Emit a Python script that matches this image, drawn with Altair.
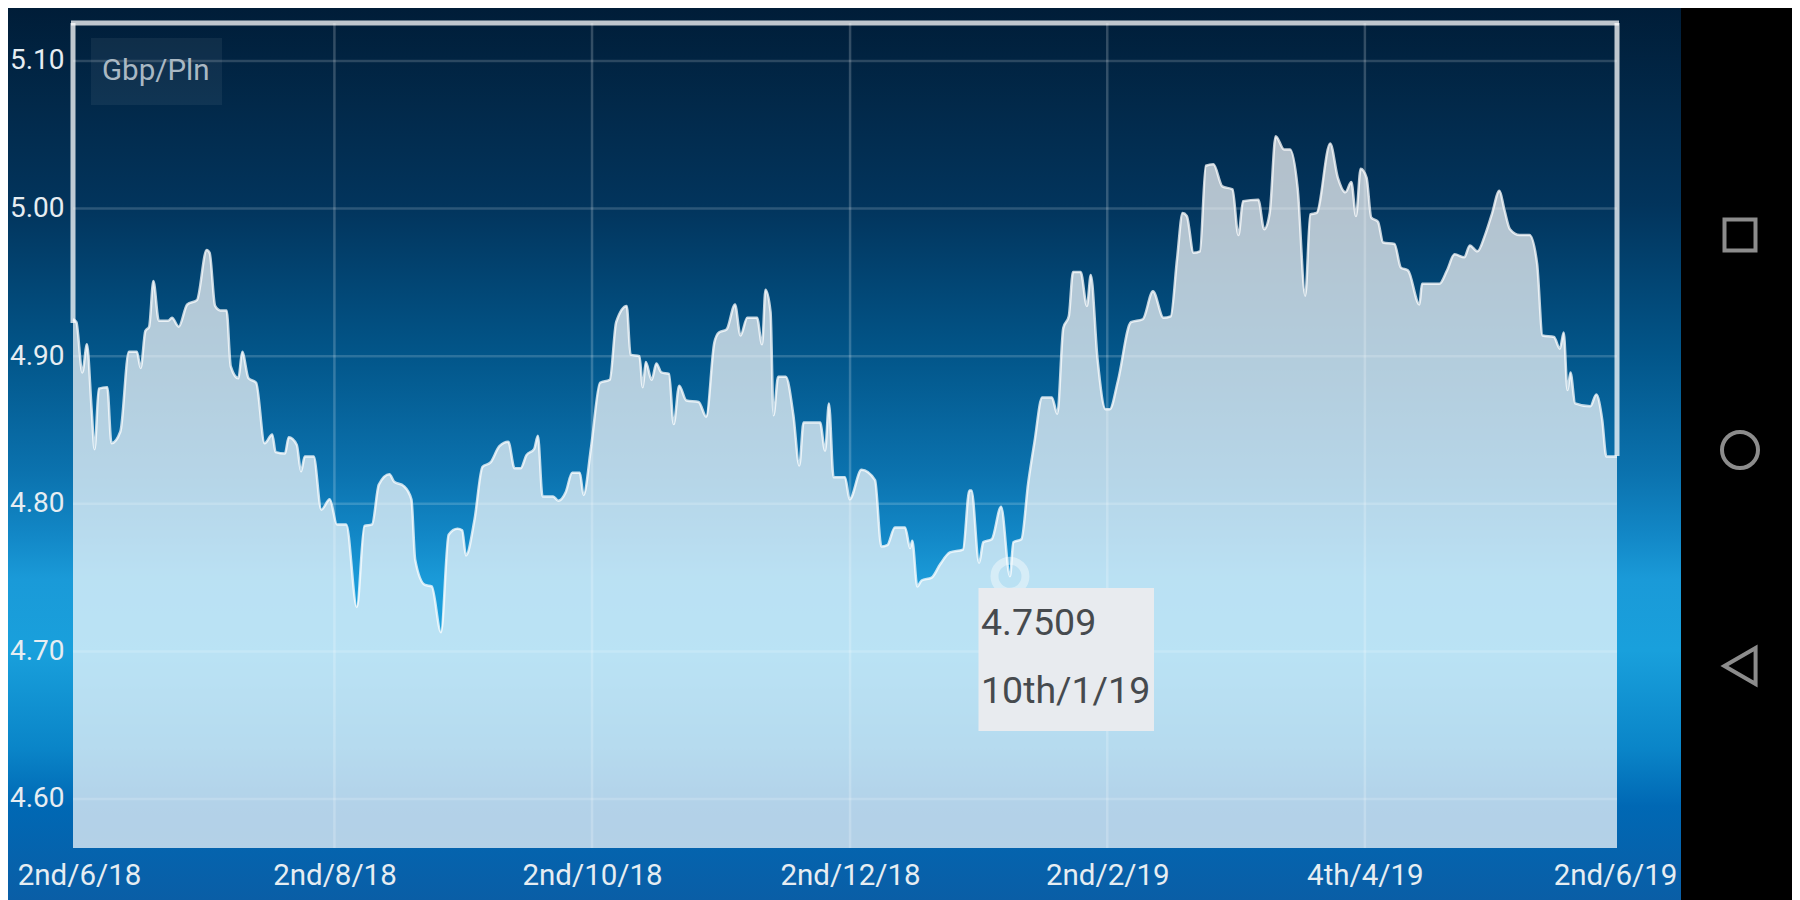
import altair as alt
import pandas as pd

days = [0,0.8,2.2,3.3,4.4,5.1,6.1,8.1,9.1,11.2,13.2,15.1,16,17.1,18,19,20.3,22.5,23.4,25,27,29.3,31.6,32.3,33.6,34.8,36.3,37.3,39.1,40,41.5,43.3,45.3,47.1,47.9,50.1,51,52.9,53.9,54.8,56.9,58.7,60.7,62.4,64.6,67.1,68.9,70.7,72.3,74.8,75.9,78.2,80,80.9,83.2,84.8,87,88.8,90.9,92,92.9,94.9,96.8,98.7,100.8,102.9,104.4,105.8,107.2,109,109.9,111,113.5,114.7,116.5,118,119.8,120.7,122.5,
        124.6,126.9,128.4,130.9,131.8,133.9,134.7,135.4,136.8,137.9,139.1,140.9,142,143.3,145,147.9,149.7,151.6,152.7,154.5,156.5,157.8,159.4,161.7,162.9,163.7,164.9,165.6,166.7,168.5,170.3,171.7,172.7,176.6,177.8,178.7,179.8,182.5,183.6,186.4,189.6,191.1,192.5,194.3,
        196.7,197.9,198.4,199.6,200.6,203,205,207.3,210.4,211.9,212.4,214.2,215.2,217.2,219.4,221.5,222.3,224.2,225.8,
        227.3,229.1,231.4,232.7,234.1,235.4,236.4,238.2,239.7,240.6,242.2,244.1,245.1,
        247,250.1,252.9,255.3,257.8,259.5,261,262.3,263.3,264.9,266.4,267.8,269.6,271.7,274.1,275.5,276.6,280.2,281.6,282.9,284.3,286.3,287.7,289.5,291.3,292.5,294,297.2,299,300.8,302.2,303.3,304.4,305.8,306.9,308.5,309.7,312.4,313.9,315.6,318.3,318.9,323,324.8,326.6,328.9,330.2,332,333.8,335.4,337.2,338.4,339.7,342,344.3,346.1,347.4,350.1,351.5,352.4,353.3,354,355.1,358.7,360.1,361.5,362.5,365]
rates = [4.925,4.923,4.889,4.908,4.864,4.837,4.878,4.879,4.841,4.849,4.903,4.903,4.892,4.917,4.92,4.951,4.924,4.924,4.926,4.920,4.935,4.938,4.972,4.970,4.934,4.931,4.931,4.893,4.885,4.903,4.885,4.882,4.841,4.847,4.835,4.834,4.845,4.840,4.822,4.832,4.832,4.796,4.803,4.786,4.786,4.730,4.785,4.786,4.813,4.820,4.815,4.812,4.803,4.762,4.745,4.744,4.713,4.779,4.783,4.782,4.765,4.789,4.825,4.828,4.839,4.842,4.824,4.824,4.833,4.837,4.846,4.805,4.805,4.802,4.808,4.821,4.821,4.806,4.839,
         4.882,4.884,4.923,4.934,4.901,4.900,4.879,4.896,4.884,4.895,4.889,4.888,4.854,4.880,4.870,4.869,4.859,4.909,4.916,4.918,4.935,4.914,4.926,4.926,4.908,4.945,4.930,4.860,4.886,4.886,4.860,4.826,4.855,4.855,4.836,4.868,4.818,4.818,4.803,4.823,4.816,4.771,4.772,4.784,
         4.784,4.770,4.775,4.744,4.748,4.750,4.759,4.767,4.769,4.809,4.809,4.760,4.774,4.776,4.798,4.7509,4.774,4.776,4.814,
         4.842,4.872,4.872,4.861,4.919,4.927,4.957,4.957,4.934,4.955,4.898,4.864,4.864,
         4.883,4.923,4.925,4.944,4.926,4.927,4.966,4.997,4.995,4.970,4.971,5.029,5.030,5.015,5.013,4.982,5.005,5.006,4.986,4.997,5.049,5.040,5.040,5.014,4.941,4.996,4.997,5.044,5.021,5.011,5.018,4.995,5.027,5.021,4.994,4.991,4.977,4.976,4.960,4.958,4.935,4.949,4.949,4.958,4.969,4.967,4.975,4.971,4.982,4.996,5.012,4.999,4.986,4.982,4.982,4.963,4.914,4.913,4.905,4.916,4.877,4.889,4.868,4.866,4.874,4.857,4.832,4.832]

x_ticks = [0, 61.8, 122.7, 183.7, 244.5, 305.4, 365]
x_labels = ["2nd/6/18", "2nd/8/18", "2nd/10/18", "2nd/12/18", "2nd/2/19", "4th/4/19", "2nd/6/19"]
y_ticks = [4.6, 4.7, 4.8, 4.9, 5.0, 5.1]
pair_name = "Gbp/Pln"
tip_day = 221.5
tip_rate = 4.7509
tip_rate_text = "4.7509"
tip_date_text = "10th/1/19"

W, H = 1544, 825
FONT = "Roboto"
Y_MIN, Y_MAX = 4.5668, 5.1257
x_scale = alt.Scale(domain=[0, 365], nice=False, zero=False)
y_scale = alt.Scale(domain=[Y_MIN, Y_MAX], nice=False, zero=False)
one = alt.Data(values=[{"k": 1}])
df = pd.DataFrame({"day": days, "rate": rates, "floor": [Y_MIN] * len(days)})

def sx(v):
    return alt.value(v - 73)
def sy(v):
    return alt.value(v - 23)

label_expr = "[" + ",".join(f"'{s}'" for s in x_labels) + "][indexof([" + ",".join(str(t) for t in x_ticks) + "],datum.value)]"
x_axis = alt.Axis(
    values=x_ticks, labelExpr=label_expr, title=None, grid=False, domain=False, ticks=False,
    labelFont=FONT, labelFontSize=29.5, labelColor="#e6edf2", labelPadding=13,
    labelOffset=alt.ConditionalAxisNumber(
        condition=[alt.ConditionalPredicateValueDefnumbernullExprRef(test="datum.value == 0", value=6),
                   alt.ConditionalPredicateValueDefnumbernullExprRef(test="datum.value == 365", value=-2)],
        value=0),
    labelOverlap=False, labelBound=False, labelFlush=False, labelAngle=0, zindex=1)
y_axis = alt.Axis(
    values=y_ticks, format=".2f", title=None, grid=False, domain=False, ticks=False,
    labelFont=FONT, labelFontSize=28, labelColor="#e6edf2", labelPadding=9,
    labelOverlap=False, labelBound=False, labelFlush=False, zindex=1)

grad = alt.Gradient(
    gradient="linear", x1=0, y1=0, x2=0, y2=1,
    stops=[
        alt.GradientStop(offset=0.0, color="#001d38"),
        alt.GradientStop(offset=0.11, color="#02294a"),
        alt.GradientStop(offset=0.22, color="#02345c"),
        alt.GradientStop(offset=0.39, color="#02568a"),
        alt.GradientStop(offset=0.52, color="#0b72ae"),
        alt.GradientStop(offset=0.59, color="#1287c6"),
        alt.GradientStop(offset=0.64, color="#1a9ad8"),
        alt.GradientStop(offset=0.72, color="#19a0dc"),
        alt.GradientStop(offset=0.83, color="#0a85c8"),
        alt.GradientStop(offset=0.895, color="#0068b4"),
        alt.GradientStop(offset=1.0, color="#0a5ea6"),
    ],
)

bg = alt.Chart(one).mark_rect(fill=grad).encode(
    x=sx(8), x2=sx(1792), y=sy(8), y2=sy(900))
black = alt.Chart(one).mark_rect(fill="#000000").encode(
    x=sx(1681), x2=sx(1792), y=sy(8), y2=sy(900))

grid_v = alt.Chart(pd.DataFrame({"t": x_ticks[1:-1]})).mark_rule(
    color="#ffffff", opacity=0.2, strokeWidth=2.5
).encode(x=alt.X("t:Q", scale=x_scale, axis=x_axis))
grid_h = alt.Chart(pd.DataFrame({"t": y_ticks})).mark_rule(
    color="#ffffff", opacity=0.17, strokeWidth=2.5
).encode(y=alt.Y("t:Q", scale=y_scale, axis=y_axis))

def edge(x1, x2, y1, y2):
    return alt.Chart(one).mark_rule(color="#ffffff", opacity=0.75, strokeWidth=5).encode(
        x=alt.value(x1), x2=alt.value(x2), y=alt.value(y1), y2=alt.value(y2))
frame_top = edge(-2, W + 2, 0, 0)
frame_left = edge(0, 0, 0, 300)
frame_right = edge(W, W, 0, 433)

area = alt.Chart(df).mark_area(fill="#ffffff", opacity=0.7, interpolate="monotone").encode(
    x=alt.X("day:Q", scale=x_scale, axis=x_axis),
    y=alt.Y("rate:Q", scale=y_scale, axis=y_axis),
    y2=alt.Y2("floor:Q"),
)
line = alt.Chart(df).mark_line(color="#ffffff", opacity=0.75, strokeWidth=2.5, interpolate="monotone").encode(
    x=alt.X("day:Q", scale=x_scale, axis=x_axis), y=alt.Y("rate:Q", scale=y_scale, axis=y_axis))

ring = alt.Chart(pd.DataFrame({"day": [tip_day], "rate": [tip_rate]})).mark_point(
    shape="circle", size=961, filled=False, stroke="#ffffff", strokeOpacity=0.6, strokeWidth=8
).encode(x=alt.X("day:Q", scale=x_scale, axis=x_axis), y=alt.Y("rate:Q", scale=y_scale, axis=y_axis))

name_box = alt.Chart(one).mark_rect(fill="#ffffff", opacity=0.06).encode(
    x=sx(91), x2=sx(222), y=sy(38), y2=sy(105))
name_text = alt.Chart(one).mark_text(
    text=pair_name, font=FONT, fontSize=29.5, color="#aab8c3", align="left", baseline="middle"
).encode(x=sx(102), y=sy(71))

tip_box = alt.Chart(one).mark_rect(fill="#e8ebef").encode(
    x=sx(978.5), x2=sx(1154), y=sy(588), y2=sy(731))
tip_1 = alt.Chart(one).mark_text(
    text=tip_rate_text, font=FONT, fontSize=37.5, color="#464a4e", align="left", baseline="middle"
).encode(x=sx(981), y=sy(624))
tip_2 = alt.Chart(one).mark_text(
    text=tip_date_text, font=FONT, fontSize=37.5, color="#464a4e", align="left", baseline="middle"
).encode(x=sx(981), y=sy(692))

def icon(shape, size, py):
    return alt.Chart(one).mark_point(
        shape=shape, size=size, filled=False, stroke="#8c8c8c", strokeWidth=4, opacity=1
    ).encode(x=sx(1740), y=sy(py))

chart = alt.layer(
    bg, black, grid_v, grid_h, frame_top, frame_left, frame_right, area, line, ring, name_box, name_text,
    tip_box, tip_1, tip_2,
    icon("square", 961, 235), icon("circle", 1296, 450), icon("triangle-left", 1296, 666),
).resolve_scale(x="shared", y="shared").properties(
    width=W, height=H,
    autosize=alt.AutoSizeParams(type="none"),
    padding={"left": 65, "top": 15, "right": 175, "bottom": 52},
).configure_view(stroke=None)

chart.save("out.html", embed_options={"renderer": "svg", "actions": False})
